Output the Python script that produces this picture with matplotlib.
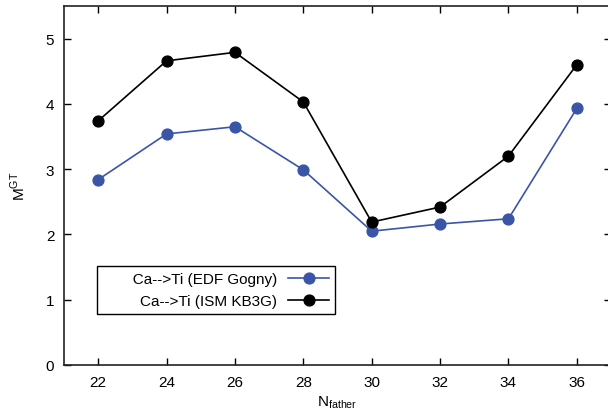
import matplotlib
matplotlib.use("Agg")
import matplotlib.pyplot as plt

n_father = [22, 24, 26, 28, 30, 32, 34, 36]
edf_gogny = [2.84, 3.54, 3.65, 2.99, 2.05, 2.16, 2.24, 3.93]
ism_kb3g = [3.74, 4.66, 4.79, 4.03, 2.19, 2.42, 3.20, 4.60]
labels = ["Ca-->Ti (EDF Gogny)", "Ca-->Ti (ISM KB3G)"]
xticks = [22, 24, 26, 28, 30, 32, 34, 36]
yticks = [0, 1, 2, 3, 4, 5]

plt.rcParams['font.family'] = ['Liberation Sans', 'DejaVu Sans']
FS = 11

W, H = 608, 414
DPI = 100
fig = plt.figure(figsize=(W / DPI, H / DPI), dpi=DPI)
left, right, top, bottom = 64, 611, 7, 366
ax = fig.add_axes([left / W, 1 - bottom / H, (right - left) / W, (bottom - top) / H])

blue = '#3a55a8'
ax.plot(n_father, edf_gogny, '-o', color=blue, lw=1.2, ms=7.8, label='       ' + labels[0])
ax.plot(n_father, ism_kb3g, '-o', color='black', lw=1.2, ms=7.8, label=labels[1])

ax.set_xlim(21, 37)
ax.set_ylim(0, 5.5)
ax.set_xticks(xticks)
ax.set_yticks(yticks)
ax.tick_params(direction='in', length=5, width=1, top=True, right=True, labelsize=FS, pad=7)
for s in ax.spines.values():
    s.set_linewidth(1.2)
    s.set_color('#222222')

ax.set_xlabel(r'N$_{\mathregular{father}}$', fontsize=FS, labelpad=3)
ax.set_ylabel(r'M$^{\mathregular{GT}}$', fontsize=FS, labelpad=13)

leg = ax.legend(loc='lower left', bbox_to_anchor=(0.06, 0.142), borderaxespad=0,
                markerfirst=False, fancybox=False, framealpha=1, edgecolor='black',
                handlelength=2.7, handletextpad=0.7, borderpad=0.4, labelspacing=0.5,
                fontsize=FS)
leg.get_frame().set_linewidth(1.0)

fig.savefig('out.png', dpi=DPI)
